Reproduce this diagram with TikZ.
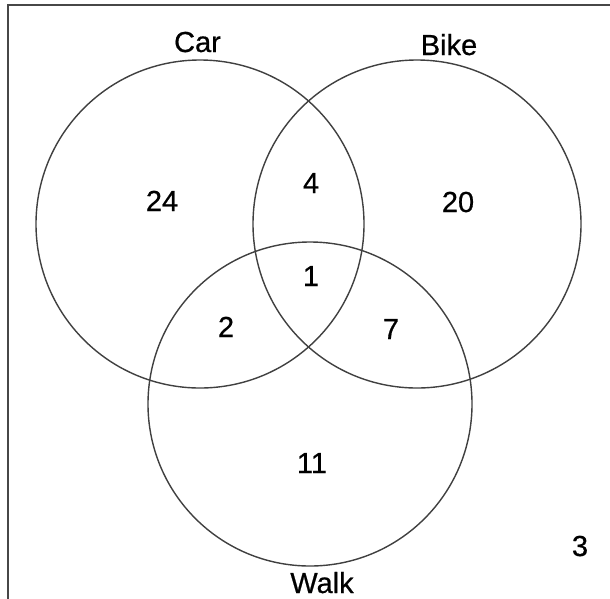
\documentclass[tikz,border=0pt]{standalone}
\usepackage{fontspec}
\setmainfont{Liberation Sans}
\newfontfamily\lblfont[FakeBold=0.6]{Liberation Sans}
\begin{document}
\begin{tikzpicture}[x=1pt,y=-1pt,
  vset/.style={draw=black!75, line width=1.4pt, circle, inner sep=0pt, fill=none},
  frameline/.style={draw=black!72, line width=2pt},
  lbl/.style={anchor=base, inner sep=0pt, font=\lblfont\fontsize{29}{34}\selectfont}]
\clip (0,0) rectangle (610,598);
\fill[white] (0,0) rectangle (610,598);
\draw[frameline] (8,5) rectangle (650,650);
\node[vset, minimum size=328pt] (car) at (200,224) {};
\node[vset, minimum size=328pt] (bike) at (417,224) {};
\node[vset, minimum size=324pt] (walk) at (310,404) {};
\node[lbl] (lcar) at (197.5,52) {Car};
\node[lbl] (lbike) at (449,55) {Bike};
\node[lbl] (lwalk) at (322,593) {Walk};
\node[lbl] (nout) at (580,556) {3};
\node[lbl] (ncar) at (162,211) {24};
\node[lbl] (ncb) at (311,193) {4};
\node[lbl] (nbike) at (458,212) {20};
\node[lbl] (nall) at (311,286) {1};
\node[lbl] (ncw) at (226,337) {2};
\node[lbl] (nbw) at (391,339) {7};
\node[lbl] (nwalk) at (312,473) {11};
\end{tikzpicture}
\end{document}
